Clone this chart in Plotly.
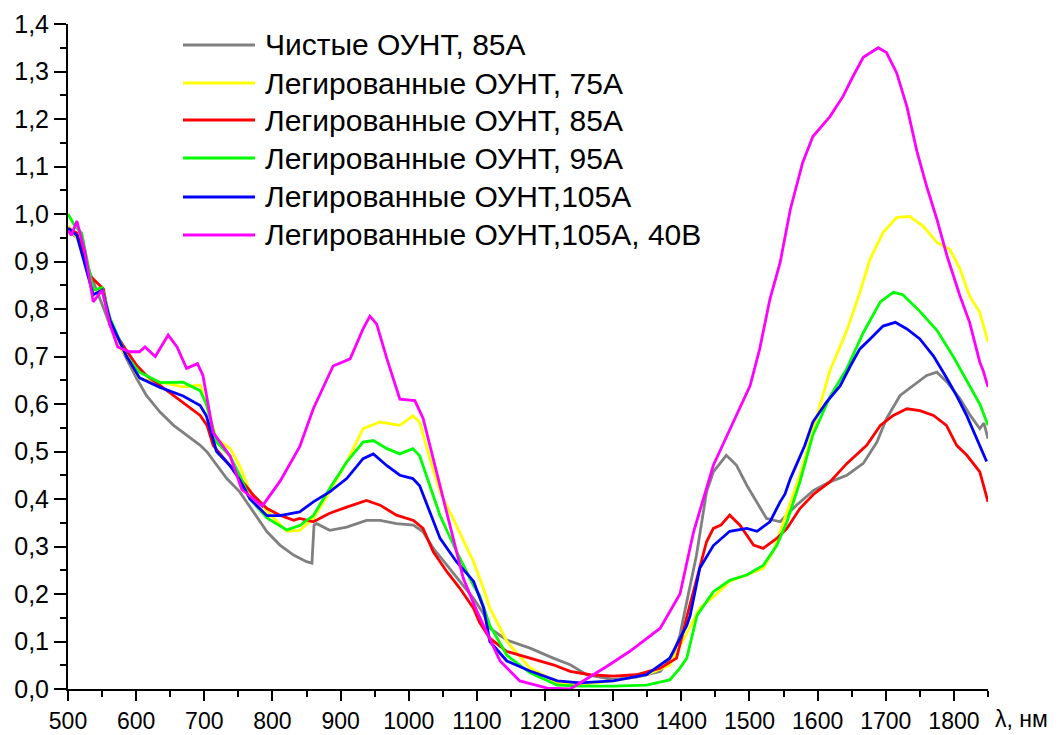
import plotly.graph_objects as go

# ---------------- data ----------------
names = [
    "Чистые ОУНТ, 85А",
    "Легированные ОУНТ, 75А",
    "Легированные ОУНТ, 85А",
    "Легированные ОУНТ, 95А",
    "Легированные ОУНТ,105А",
    "Легированные ОУНТ,105А, 40В",
]
colors = ["#808080", "#FFFF00", "#FF0000", "#00FF00", "#0000FF", "#FF00FF"]

gray_x = [500, 518, 532, 547, 562, 576, 586, 601, 615, 635, 655, 674, 694, 704, 718, 733, 752, 772, 792, 811,
          831, 850, 858, 861, 865, 884, 909, 938, 958, 982, 1007, 1021, 1036, 1056, 1075, 1095, 1109, 1119, 1144,
          1178, 1212, 1237, 1261, 1300, 1334, 1369, 1388, 1398, 1408, 1422, 1437, 1447, 1466, 1481, 1496, 1510,
          1525, 1545, 1569, 1594, 1618, 1643, 1667, 1687, 1701, 1721, 1741, 1760, 1775, 1790, 1809, 1824, 1838,
          1844, 1850]
gray_y = [0.965, 0.945, 0.877, 0.821, 0.765, 0.723, 0.695, 0.653, 0.618, 0.583, 0.555, 0.534, 0.513, 0.499,
          0.471, 0.443, 0.415, 0.373, 0.331, 0.303, 0.282, 0.268, 0.265, 0.345, 0.348, 0.334, 0.341, 0.355, 0.355,
          0.348, 0.345, 0.331, 0.296, 0.261, 0.226, 0.191, 0.160, 0.128, 0.103, 0.086, 0.065, 0.051, 0.030, 0.020,
          0.025, 0.037, 0.072, 0.114, 0.184, 0.280, 0.415, 0.457, 0.492, 0.471, 0.429, 0.394, 0.359, 0.352, 0.387,
          0.418, 0.436, 0.450, 0.475, 0.520, 0.569, 0.618, 0.639, 0.660, 0.667, 0.646, 0.611, 0.576, 0.548, 0.560,
          0.527]

yellow_x = [500, 513, 525, 537, 550, 562, 573, 586, 605, 635, 669, 694, 703, 718, 738, 752, 767, 792, 821, 840,
            860, 884, 909, 933, 958, 987, 1006, 1016, 1031, 1046, 1070, 1095, 1110, 1119, 1144, 1178, 1218, 1251,
            1300, 1349, 1383, 1408, 1427, 1452, 1471, 1496, 1520, 1535, 1555, 1574, 1593, 1618, 1643, 1662, 1677,
            1696, 1716, 1735, 1755, 1775, 1794, 1809, 1823, 1838, 1850]
yellow_y = [0.975, 0.950, 0.900, 0.830, 0.845, 0.770, 0.725, 0.700, 0.653, 0.646, 0.636, 0.640, 0.597, 0.527,
            0.506, 0.470, 0.415, 0.374, 0.332, 0.334, 0.359, 0.415, 0.478, 0.548, 0.562, 0.555, 0.575, 0.562,
            0.485, 0.415, 0.344, 0.268, 0.210, 0.170, 0.100, 0.044, 0.013, 0.010, 0.017, 0.030, 0.050, 0.120,
            0.170, 0.200, 0.227, 0.240, 0.254, 0.290, 0.370, 0.450, 0.545, 0.670, 0.755, 0.835, 0.905, 0.961,
            0.993, 0.995, 0.974, 0.940, 0.925, 0.884, 0.827, 0.793, 0.730]

red_x = [500, 513, 532, 552, 562, 574, 586, 601, 615, 635, 655, 674, 694, 704, 713, 733, 752, 772, 792, 811, 831,
         840, 860, 884, 909, 938, 958, 982, 1007, 1021, 1036, 1056, 1075, 1095, 1104, 1119, 1144, 1178, 1212, 1237,
         1266, 1300, 1334, 1369, 1393, 1408, 1422, 1437, 1447, 1458, 1471, 1486, 1506, 1520, 1540, 1555, 1574,
         1594, 1618, 1643, 1672, 1692, 1711, 1731, 1750, 1770, 1789, 1804, 1819, 1838, 1850]
red_y = [0.970, 0.960, 0.870, 0.842, 0.765, 0.737, 0.712, 0.681, 0.660, 0.639, 0.618, 0.597, 0.576, 0.555, 0.513,
         0.478, 0.443, 0.408, 0.380, 0.366, 0.355, 0.359, 0.352, 0.370, 0.383, 0.397, 0.387, 0.366, 0.355, 0.338,
         0.289, 0.247, 0.212, 0.170, 0.140, 0.107, 0.079, 0.065, 0.051, 0.037, 0.030, 0.027, 0.030, 0.044, 0.065,
         0.152, 0.230, 0.310, 0.338, 0.345, 0.366, 0.345, 0.303, 0.296, 0.317, 0.338, 0.380, 0.410, 0.436, 0.475,
         0.513, 0.555, 0.576, 0.590, 0.586, 0.576, 0.555, 0.513, 0.492, 0.457, 0.394]

green_x = [500, 510, 520, 537, 550, 562, 586, 605, 635, 669, 694, 703, 718, 738, 752, 767, 792, 821, 840, 860, 884,
           909, 933, 948, 968, 987, 1006, 1016, 1031, 1046, 1070, 1095, 1104, 1119, 1144, 1178, 1218, 1251, 1300,
           1349, 1383, 1398, 1408, 1423, 1447, 1471, 1496, 1520, 1540, 1555, 1574, 1593, 1618, 1643, 1667, 1692,
           1711, 1725, 1750, 1775, 1799, 1819, 1838, 1850]
green_y = [1.000, 0.975, 0.960, 0.840, 0.845, 0.780, 0.700, 0.667, 0.645, 0.646, 0.628, 0.600, 0.520, 0.490, 0.450,
           0.400, 0.360, 0.335, 0.344, 0.365, 0.422, 0.478, 0.520, 0.523, 0.506, 0.495, 0.506, 0.491, 0.428, 0.365,
           0.290, 0.218, 0.197, 0.134, 0.071, 0.034, 0.008, 0.006, 0.006, 0.008, 0.019, 0.044, 0.065, 0.155, 0.205,
           0.229, 0.240, 0.260, 0.302, 0.352, 0.436, 0.535, 0.615, 0.675, 0.750, 0.815, 0.835, 0.830, 0.795, 0.755,
           0.700, 0.650, 0.600, 0.555]

blue_x = [500, 513, 537, 550, 562, 586, 605, 635, 669, 694, 703, 718, 738, 752, 767, 792, 811, 840, 860, 884, 909,
          933, 948, 968, 987, 1006, 1016, 1031, 1046, 1070, 1095, 1110, 1119, 1144, 1178, 1218, 1251, 1300, 1349,
          1383, 1408, 1413, 1427, 1447, 1471, 1496, 1511, 1530, 1545, 1552, 1560, 1581, 1593, 1613, 1633, 1648,
          1662, 1677, 1696, 1714, 1731, 1750, 1770, 1790, 1804, 1819, 1834, 1848]
blue_y = [0.970, 0.955, 0.830, 0.840, 0.775, 0.700, 0.655, 0.635, 0.617, 0.597, 0.575, 0.500, 0.470, 0.440, 0.400,
          0.365, 0.365, 0.373, 0.394, 0.415, 0.443, 0.485, 0.495, 0.470, 0.450, 0.443, 0.428, 0.373, 0.317, 0.268,
          0.227, 0.170, 0.100, 0.059, 0.038, 0.017, 0.013, 0.017, 0.030, 0.065, 0.134, 0.155, 0.254, 0.302, 0.332,
          0.338, 0.332, 0.352, 0.394, 0.410, 0.443, 0.512, 0.562, 0.604, 0.638, 0.680, 0.716, 0.737, 0.764, 0.772,
          0.758, 0.737, 0.701, 0.653, 0.617, 0.575, 0.527, 0.479]

magenta_x = [500, 505, 513, 525, 537, 550, 562, 573, 590, 605, 613, 628, 647, 660, 674, 690, 698, 713, 738, 755,
             785, 811, 840, 860, 889, 914, 933, 943, 953, 968, 987, 1009, 1021, 1041, 1060, 1080, 1100, 1134, 1163,
             1203, 1237, 1251, 1291, 1325, 1369, 1398, 1418, 1447, 1486, 1501, 1515, 1530, 1545, 1560, 1578, 1593,
             1618, 1637, 1652, 1667, 1689, 1701, 1716, 1731, 1746, 1760, 1775, 1790, 1809, 1823, 1838, 1843, 1850]
magenta_y = [0.965, 0.955, 0.985, 0.920, 0.815, 0.840, 0.765, 0.720, 0.710, 0.710, 0.720, 0.700, 0.745, 0.720,
             0.675, 0.685, 0.660, 0.540, 0.490, 0.420, 0.385, 0.437, 0.510, 0.590, 0.680, 0.695, 0.758, 0.785,
             0.768, 0.695, 0.610, 0.607, 0.570, 0.457, 0.344, 0.233, 0.164, 0.059, 0.017, 0.002, 0.000, 0.012,
             0.048, 0.080, 0.128, 0.200, 0.331, 0.471, 0.590, 0.639, 0.716, 0.821, 0.898, 1.010, 1.108, 1.163,
             1.205, 1.247, 1.290, 1.330, 1.350, 1.340, 1.297, 1.226, 1.130, 1.058, 0.989, 0.911, 0.827, 0.772,
             0.688, 0.670, 0.636]

series_x = [gray_x, yellow_x, red_x, green_x, blue_x, magenta_x]
series_y = [gray_y, yellow_y, red_y, green_y, blue_y, magenta_y]

# ---------------- figure ----------------
W, H = 1064, 735
ML, MR, MT, MB = 68, 76, 24, 46
PW, PH = W - ML - MR, H - MT - MB

def px_x(p):
    return (p - ML) / PW

def px_y(p):
    return (H - MB - p) / PH

fig = go.Figure()
for nm, c, xs, ys in zip(names, colors, series_x, series_y):
    fig.add_trace(go.Scatter(x=xs, y=ys, mode="lines", name=nm,
                             line=dict(color=c, width=2.8), showlegend=False))

FONT = "Arial, Liberation Sans, sans-serif"
axis_common = dict(showline=True, linecolor="black", linewidth=2, ticks="outside",
                   tickwidth=2, tickcolor="black", showgrid=False, zeroline=False,
                   mirror=False, automargin=False)

fig.update_layout(
    width=W, height=H,
    margin=dict(l=ML, r=MR, t=MT, b=MB, autoexpand=False),
    paper_bgcolor="white", plot_bgcolor="white",
    separators=", ",
    xaxis=dict(range=[500, 1850], tick0=500, dtick=100, ticklen=10,
               tickfont=dict(family=FONT, size=23, color="black"),
               minor=dict(dtick=50, tick0=500, ticklen=6, tickwidth=2, tickcolor="black",
                          ticks="outside", showgrid=False),
               **axis_common),
    yaxis=dict(range=[0, 1.4], tick0=0, dtick=0.1, tickformat=".1f", ticklen=12,
               tickfont=dict(family=FONT, size=25, color="black"),
               minor=dict(dtick=0.05, tick0=0, ticklen=6, tickwidth=2, tickcolor="black",
                          ticks="outside", showgrid=False),
               **axis_common),
)

# manual legend (long sample lines like the reference)
row_py = [45, 83, 120, 158, 197, 235]
for nm, c, py in zip(names, colors, row_py):
    fig.add_shape(type="line", xref="paper", yref="paper",
                  x0=px_x(183), x1=px_x(255), y0=px_y(py), y1=px_y(py),
                  line=dict(color=c, width=3))
    fig.add_annotation(xref="paper", yref="paper", x=px_x(263), y=px_y(py),
                       xanchor="left", yanchor="middle", showarrow=False, text=nm,
                       font=dict(family=FONT, size=30, color="black"))

# axis title at the right end of the x axis
fig.add_annotation(xref="paper", yref="paper", x=px_x(993), y=px_y(719),
                   xanchor="left", yanchor="middle", showarrow=False, text="λ, нм",
                   font=dict(family=FONT, size=23, color="black"))

fig.write_html("out.html")
